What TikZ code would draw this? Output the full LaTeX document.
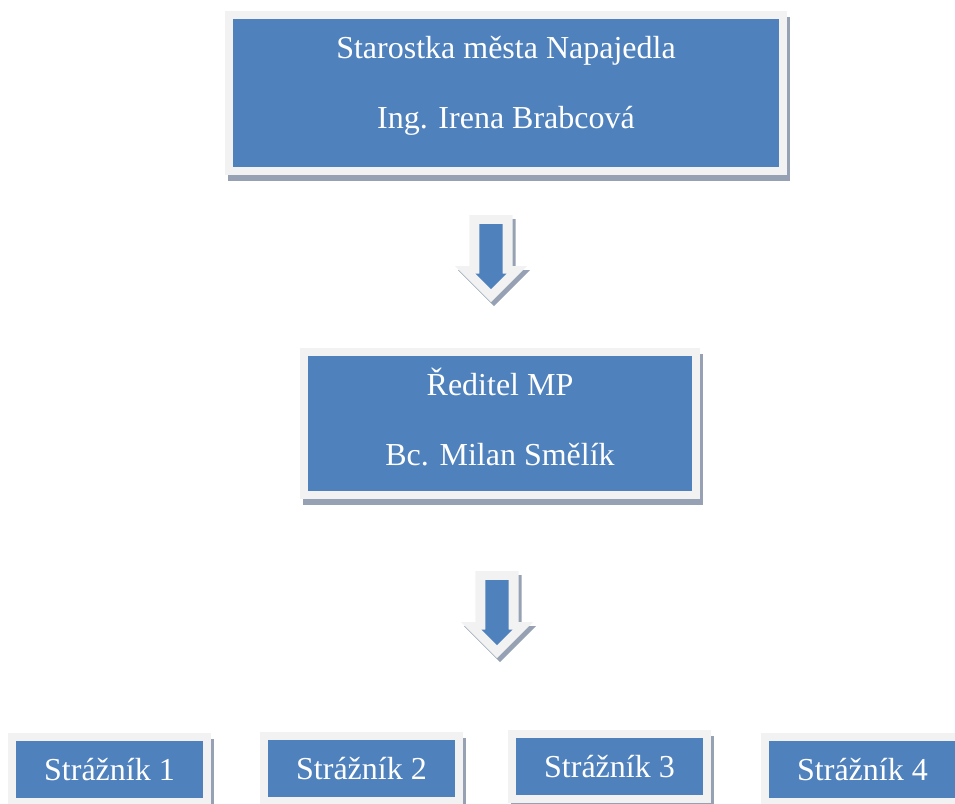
\documentclass[tikz,border=0pt]{standalone}
\usepackage{fontspec}
\setmainfont{Liberation Serif}
\usepackage{tikz}
\usetikzlibrary{shapes, arrows, shadows}

\definecolor{boxblue}{RGB}{79,129,189}
\definecolor{framegrey}{RGB}{242,242,242}
\definecolor{shadowgrey}{RGB}{150,162,180}

\begin{document}
\begin{tikzpicture}[x=1pt, y=-1pt,
  orgbox/.style={rectangle, fill=framegrey, inner sep=0pt, text=white, align=center,
    font=\fontsize{32}{70}\selectfont,
    drop shadow={shadow xshift=3pt, shadow yshift=-6pt, fill=shadowgrey, opacity=1},
    path picture={\fill[boxblue] ([shift={(8pt,8pt)}]path picture bounding box.south west)
      rectangle ([shift={(-8pt,-8pt)}]path picture bounding box.north east);}},
  guard/.style={orgbox, minimum width=203pt, minimum height=73pt, text height=24pt, text depth=3pt},
  downout/.style={single arrow, shape border rotate=270, anchor=tail, fill=framegrey, inner sep=21.5pt,
    minimum height=87pt, single arrow head extend=14.5pt,
    drop shadow={shadow xshift=3pt, shadow yshift=-4pt, fill=shadowgrey, opacity=1}},
  downin/.style={single arrow, shape border rotate=270, anchor=tail, fill=boxblue, inner sep=11.5pt,
    minimum height=65pt, single arrow head extend=4pt}]
\useasboundingbox (0,0) rectangle (955,803);
\clip (0,0) rectangle (955,803);
\node[orgbox, minimum width=562pt, minimum height=164pt] (st) at (506,93)
  {\rule{0pt}{30pt}Starostka města Napajedla\\Ing. Irena Brabcová\rule[-30pt]{0pt}{30pt}};
\node[orgbox, minimum width=400pt, minimum height=151pt] (red) at (500,423.5)
  {\rule{0pt}{30pt}Ředitel MP\\Bc. Milan Smělík\rule[-17pt]{0pt}{17pt}};
\node[downout] (ar1) at (491,215) {};
\node[downin] (ar1b) at (491,224) {};
\node[downout] (ar2) at (497,571) {};
\node[downin] (ar2b) at (497,580) {};
\node[guard] (s1) at (109.5,769.5) {Strážník 1};
\node[guard] (s2) at (361.5,768.5) {Strážník 2};
\node[guard] (s3) at (609.5,766.5) {Strážník 3};
\node[guard] (s4) at (862.5,769.5) {Strážník 4};
\end{tikzpicture}
\end{document}
